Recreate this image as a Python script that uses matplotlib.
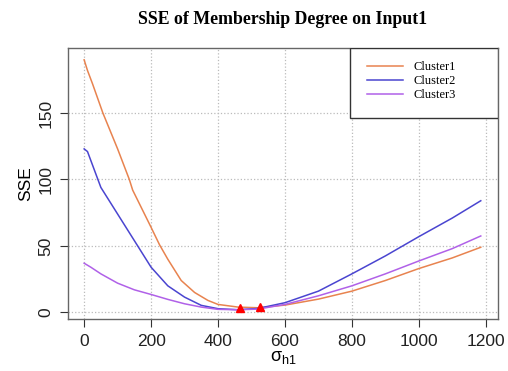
# SSE of membership degree vs sigma for three clusters

import matplotlib.pyplot as plt
from matplotlib.patches import Rectangle

sigma1 = [0, 10, 25, 56, 100, 135, 145, 200, 225, 250, 290, 330, 370, 400, 460, 520,
          600, 700, 800, 900, 1000, 1100, 1185]
sse_cluster1 = [190, 182, 172, 150, 123, 100, 92, 64, 51, 40, 24, 15, 9, 6, 4, 3.5,
                5.5, 10, 16, 24, 33, 41, 49]

sigma2 = [0, 10, 50, 100, 150, 200, 250, 300, 350, 400, 460, 520,
          600, 700, 800, 900, 1000, 1100, 1185]
sse_cluster2 = [123, 121, 94, 74, 54, 34, 20, 11.5, 5.3, 2.8, 2, 3,
                7.3, 16, 29, 42.5, 57, 71, 84]

sigma3 = [0, 20, 50, 100, 150, 200, 250, 300, 350, 400, 460, 520,
          600, 700, 800, 900, 1000, 1100, 1185]
sse_cluster3 = [37, 34, 29, 22, 17, 13.5, 9.8, 6.5, 4, 2.3, 2, 2.5,
                6, 12.5, 20, 29, 38.7, 48, 57.5]

min_sigma = [466, 525]
min_sse = [3, 4]

labels = ['Cluster1', 'Cluster2', 'Cluster3']
colors = ['#e8834f', '#4a45d0', '#b061e8']

fig = plt.figure(figsize=(5.08, 3.71), dpi=100)
ax = fig.add_axes([0.134, 0.140, 0.846, 0.731])

series = [(sigma1, sse_cluster1), (sigma2, sse_cluster2), (sigma3, sse_cluster3)]
for (xs, ys), lab, c in zip(series, labels, colors):
    ax.plot(xs, ys, color=c, linewidth=1.1, label=lab)

ax.plot(min_sigma, min_sse, linestyle='none', marker='^', color='red', markersize=5.5)

ax.set_xlim(-48, 1236)
ax.set_ylim(-5, 199)
ax.set_xticks([0, 200, 400, 600, 800, 1000, 1200])
ax.set_yticks([0, 50, 100, 150])
ax.grid(True, linestyle=':', color='#bbbbbb', linewidth=0.9)

for s in ax.spines.values():
    s.set_color('#666666')
    s.set_linewidth(1.0)

ax.tick_params(labelsize=12.5, color='#333333', length=5.5, pad=5)
for t in ax.get_xticklabels() + ax.get_yticklabels():
    t.set_family('Liberation Sans')
    t.set_color('#222222')
for t in ax.get_yticklabels():
    t.set_rotation(90)
    t.set_va('center')

ax.set_xlabel(r'$\mathregular{\sigma_{h1}}$', fontsize=13, family='Liberation Sans', labelpad=0)
ax.set_ylabel('SSE', fontsize=12.5, family='Liberation Sans', labelpad=4)
ax.set_title('SSE of Membership Degree on Input1', fontsize=12.8, family='Liberation Serif',
             fontweight='bold', pad=17)

# legend frame drawn separately so the box can be wider than the entries
ax.add_patch(Rectangle((0.656, 0.742), 0.344, 0.258, transform=ax.transAxes,
                       facecolor='white', edgecolor='#333333', linewidth=1.0, zorder=4))
leg = ax.legend(loc='upper left', bbox_to_anchor=(0.695, 0.95), borderaxespad=0,
                borderpad=0, frameon=False,
                prop={'family': 'Liberation Serif', 'size': 9},
                handlelength=2.9, labelspacing=0.15, handletextpad=0.8)
leg.set_zorder(5)

fig.savefig('out.png', dpi=100)
